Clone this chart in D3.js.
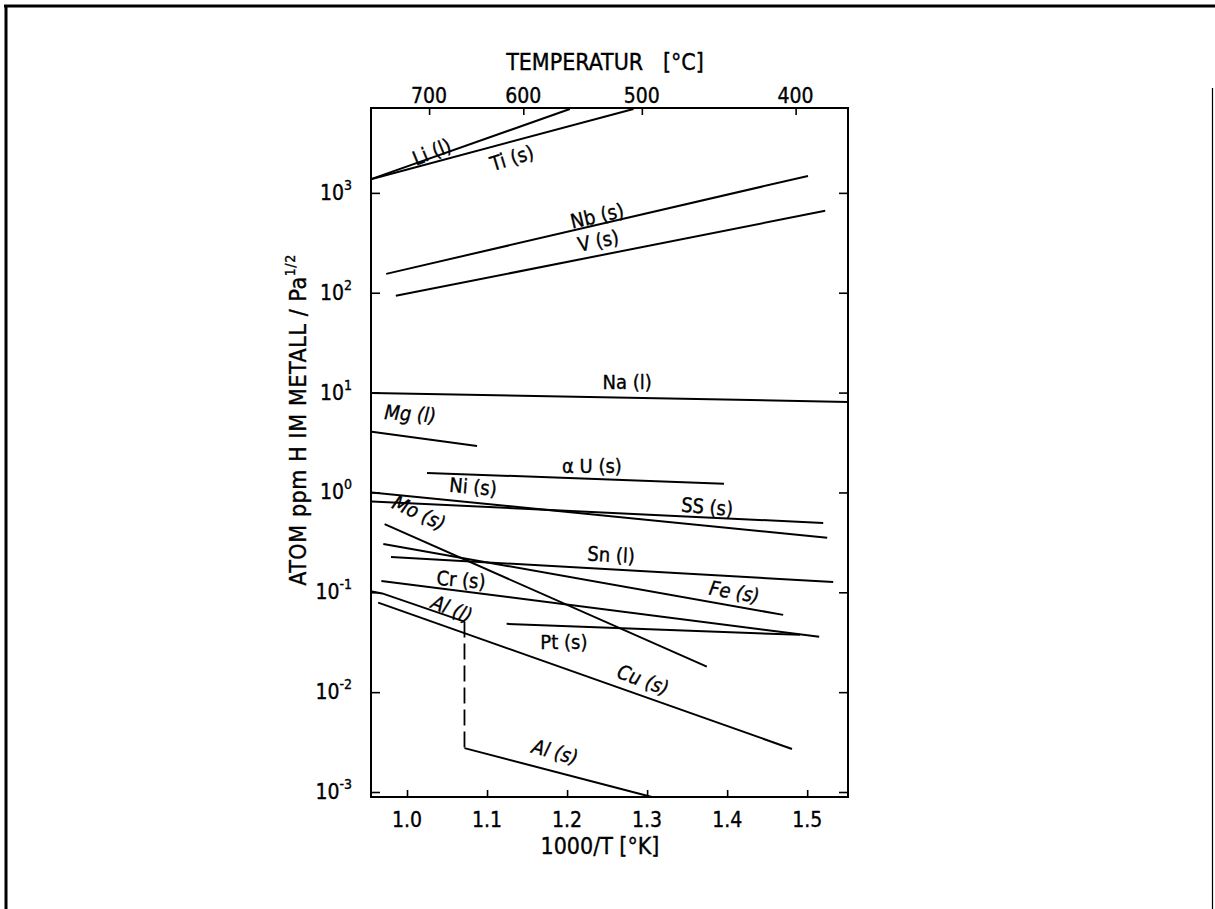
<!DOCTYPE html>
<html>
<head>
<meta charset="utf-8">
<script src="https://cdn.jsdelivr.net/npm/d3@7"></script>
<style>
  html, body { margin: 0; padding: 0; background: #fff; }
  svg { display: block; }
  text { font-family: "Liberation Sans Narrow", "Arial Narrow", "DejaVu Sans Condensed", sans-serif; fill: #000; stroke: #000; stroke-width: 0.35px; }
</style>
</head>
<body>
<svg id="chart" width="1215" height="909"></svg>
<script>
// ---------------- DATA ----------------
// x = 1000/T [1/K], y = atom ppm H / Pa^1/2
const xDomain = [0.955, 1.551];
const yDomain = [Math.pow(10, -3.05), Math.pow(10, 3.85)];

const bottomTicks = [1.0, 1.1, 1.2, 1.3, 1.4, 1.5];
const bottomTickLabels = ["1.0", "1.1", "1.2", "1.3", "1.4", "1.5"];
const topTicksC = [700, 600, 500, 400];
const yTickExponents = [-3, -2, -1, 0, 1, 2, 3];

const Li  = [[0.956, 1380], [1.2035, 6918]];
const Ti  = [[0.956, 1380], [1.283, 6918]];
const Nb  = [[0.974, 154.5], [1.501, 1479]];
const V   = [[0.986, 93.1], [1.5225, 661]];
const Na  = [[0.956, 9.93], [1.551, 8.07]];
const Mg  = [[0.956, 4.05], [1.0875, 2.92]];
const aU  = [[1.025, 1.57], [1.396, 1.22]];
const Ni  = [[0.956, 1.00], [1.525, 0.351]];
const SS  = [[0.956, 0.811], [1.52, 0.495]];
const Mo  = [[0.972, 0.481], [1.3746, 0.0180]];
const Fe  = [[0.9704, 0.305], [1.47, 0.0594]];
const Sn  = [[0.98, 0.226], [1.5325, 0.127]];
const Cr  = [[0.968, 0.130], [1.515, 0.0358]];
const Pt  = [[1.1245, 0.0483], [1.491, 0.0375]];
const AlL = [[0.956, 0.1016], [0.969, 0.0975], [1.0718, 0.0509]];
const AlMelt = [[1.0718, 0.0509], [1.0718, 0.00275]];
const AlS = [[1.0718, 0.00275], [1.306, 0.000891]];
const Cu  = [[0.964, 0.0789], [1.481, 0.0027]];

const solidLines = [Li, Ti, Nb, V, Na, Mg, aU, Ni, SS, Mo, Fe, Sn, Cr, Pt, AlL, AlS, Cu];
const dashedLines = [AlMelt];

// label text, anchor (x, log10 y in data units), rotation (deg), italic
const labelTexts   = ["Li (l)", "Ti (s)", "Nb (s)", "V (s)", "Na (l)", "Mg (l)", "\u03b1 U (s)", "Ni (s)", "SS (s)", "Mo (s)", "Sn (l)", "Fe (s)", "Cr (s)", "Al (l)", "Pt (s)", "Cu (s)", "Al (s)"];
const labelX       = [1.031, 1.131, 1.2375, 1.239, 1.275, 1.004, 1.231, 1.0825, 1.375, 1.015, 1.255, 1.409, 1.0675, 1.056, 1.196, 1.295, 1.185];
const labelLogY    = [3.41, 3.35, 2.77, 2.52, 1.107, 0.787, 0.266, 0.056, -0.144, -0.204, -0.625, -0.996, -0.875, -1.166, -1.496, -1.877, -2.598];
const labelAngle   = [-22, -17, -13, -11, 0, 4, 0, 5, 5, 25, 3, 10, 5, 22, 0, 20, 15];
const labelItalic  = [false, false, false, false, false, true, false, false, false, true, false, true, false, true, false, true, true];

// ---------------- DRAW ----------------
const svg = d3.select("#chart");
const L = 371, R = 848, T = 108, B = 797;

const x = d3.scaleLinear().domain(xDomain).range([L, R]);
const y = d3.scaleLog().domain(yDomain).range([B, T]);

// outer border
svg.append("line").attr("x1", 4).attr("x2", 1215).attr("y1", 6).attr("y2", 6).attr("stroke", "#000").attr("stroke-width", 3);
svg.append("line").attr("x1", 6).attr("x2", 6).attr("y1", 5).attr("y2", 909).attr("stroke", "#000").attr("stroke-width", 3);
svg.append("line").attr("x1", 1212.5).attr("x2", 1212.5).attr("y1", 88).attr("y2", 909).attr("stroke", "#000").attr("stroke-width", 1.2);

// axes (inward ticks)
const axisStyle = g => {
  g.select(".domain").remove();
  g.selectAll(".tick line").attr("stroke", "#000").attr("stroke-width", 1.6);
  g.selectAll(".tick text").remove();
};
svg.append("g").attr("transform", `translate(0,${B})`)
  .call(d3.axisBottom(x).tickValues(bottomTicks).tickSize(-7).tickSizeOuter(0)).call(axisStyle);
svg.append("g").attr("transform", `translate(0,${T})`)
  .call(d3.axisTop(x).tickValues(topTicksC.map(c => 1000 / (c + 273.15))).tickSize(-7).tickSizeOuter(0)).call(axisStyle);
svg.append("g").attr("transform", `translate(${L},0)`)
  .call(d3.axisLeft(y).tickValues(yTickExponents.map(e => Math.pow(10, e))).tickSize(-9).tickSizeOuter(0)).call(axisStyle);
svg.append("g").attr("transform", `translate(${R},0)`)
  .call(d3.axisRight(y).tickValues(yTickExponents.map(e => Math.pow(10, e))).tickSize(-9).tickSizeOuter(0)).call(axisStyle);

// frame
svg.append("rect").attr("x", L).attr("y", T).attr("width", R - L).attr("height", B - T)
  .attr("fill", "none").attr("stroke", "#000").attr("stroke-width", 2);

// bottom tick labels
svg.append("g").selectAll("text").data(bottomTicks).join("text")
  .attr("x", d => x(d)).attr("y", 827).attr("text-anchor", "middle")
  .attr("font-size", 21).text((d, i) => bottomTickLabels[i]);

// top tick labels
svg.append("g").selectAll("text").data(topTicksC).join("text")
  .attr("x", d => x(1000 / (d + 273.15))).attr("y", 103).attr("text-anchor", "middle")
  .attr("font-size", 21).text(d => d);

// left tick labels 10^n
const yl = svg.append("g").selectAll("text").data(yTickExponents).join("text")
  .attr("x", 352).attr("y", d => y(Math.pow(10, d)) + 7).attr("text-anchor", "end")
  .attr("font-size", 21);
yl.append("tspan").text("10");
yl.append("tspan").attr("font-size", 14).attr("dy", -10).text(d => d);

// titles
svg.append("text").attr("x", 605).attr("y", 70).attr("text-anchor", "middle")
  .attr("font-size", 23).style("white-space", "pre").text("TEMPERATUR   [\u00b0C]");
svg.append("text").attr("x", 600).attr("y", 854).attr("text-anchor", "middle")
  .attr("font-size", 23).style("white-space", "pre").text("1000/T [\u00b0K]");

const yt = svg.append("text").attr("transform", "translate(306,420) rotate(-90)")
  .attr("text-anchor", "middle").attr("font-size", 23).attr("letter-spacing", 0.6);
yt.append("tspan").text("ATOM ppm H IM METALL / Pa");
yt.append("tspan").attr("font-size", 14).attr("dy", -11).text("1/2");

// series lines
const line = d3.line().x(d => x(d[0])).y(d => y(d[1]));
const plot = svg.append("g");
plot.selectAll("path.solid").data(solidLines).join("path").attr("class", "solid")
  .attr("d", line).attr("fill", "none").attr("stroke", "#000").attr("stroke-width", 2);
plot.selectAll("path.dash").data(dashedLines).join("path").attr("class", "dash")
  .attr("d", line).attr("fill", "none").attr("stroke", "#000").attr("stroke-width", 1.8)
  .attr("stroke-dasharray", "16,6");

// series labels
svg.append("g").selectAll("text").data(labelTexts).join("text")
  .attr("transform", (d, i) => `translate(${x(labelX[i])},${y(Math.pow(10, labelLogY[i]))}) rotate(${labelAngle[i]})`)
  .attr("text-anchor", "middle").attr("dominant-baseline", "central")
  .attr("font-size", 20).attr("font-style", (d, i) => labelItalic[i] ? "italic" : "normal")
  .text(d => d);
</script>
</body>
</html>
